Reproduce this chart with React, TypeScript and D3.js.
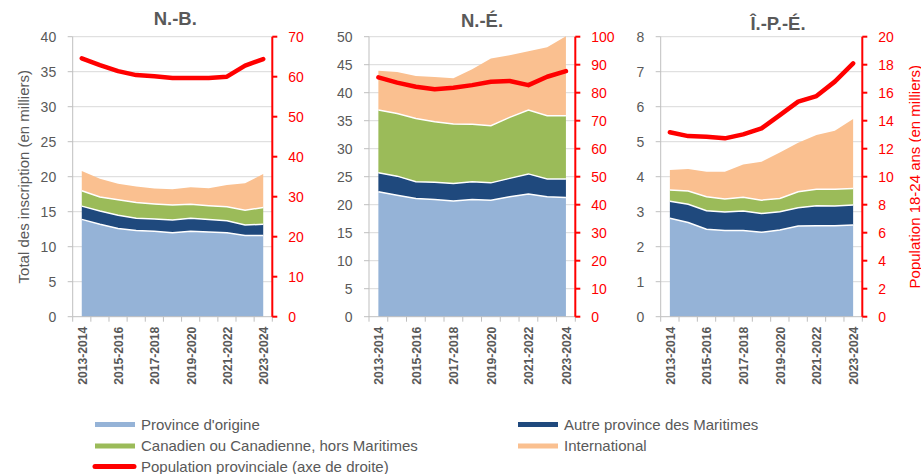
import * as d3 from "d3";

// ── Data (values in thousands) ─────────────────────────────────────────────
const years = [
  "2013-2014", "2014-2015", "2015-2016", "2016-2017", "2017-2018", "2018-2019",
  "2019-2020", "2020-2021", "2021-2022", "2022-2023", "2023-2024",
];

const nbOrigine = [13.9, 13.2, 12.6, 12.3, 12.2, 12.0, 12.2, 12.1, 12.0, 11.6, 11.6];
const nbAutre = [1.9, 1.9, 1.9, 1.75, 1.75, 1.8, 1.85, 1.8, 1.7, 1.5, 1.6];
const nbCanadien = [2.2, 2.0, 2.2, 2.25, 2.15, 2.15, 2.0, 1.95, 2.0, 2.1, 2.4];
const nbInternational = [2.8, 2.6, 2.3, 2.3, 2.2, 2.25, 2.45, 2.5, 3.1, 3.85, 4.8];
const nbPopulation = [64.6, 62.9, 61.4, 60.4, 60.1, 59.7, 59.7, 59.7, 60.0, 62.75, 64.4];

const neOrigine = [22.3, 21.7, 21.1, 20.95, 20.65, 20.95, 20.8, 21.4, 21.9, 21.4, 21.3];
const neAutre = [3.4, 3.4, 3.0, 3.05, 3.15, 3.15, 3.1, 3.3, 3.6, 3.2, 3.3];
const neCanadien = [11.2, 11.2, 11.3, 10.8, 10.6, 10.25, 10.2, 10.9, 11.4, 11.3, 11.3];
const neInternational = [7.0, 7.4, 7.6, 8.0, 8.2, 9.85, 12.0, 11.1, 10.5, 12.2, 14.2];
const nePopulation = [85.5, 83.6, 82.1, 81.2, 81.8, 82.7, 83.9, 84.2, 82.7, 85.7, 87.7];

const ipeOrigine = [2.81, 2.69, 2.5, 2.46, 2.46, 2.41, 2.48, 2.59, 2.6, 2.6, 2.62];
const ipeAutre = [0.49, 0.52, 0.53, 0.53, 0.56, 0.54, 0.52, 0.52, 0.57, 0.56, 0.57];
const ipeCanadien = [0.32, 0.38, 0.4, 0.37, 0.39, 0.38, 0.38, 0.46, 0.47, 0.48, 0.47];
const ipeInternational = [0.57, 0.63, 0.71, 0.78, 0.94, 1.1, 1.31, 1.4, 1.55, 1.67, 1.99];
const ipePopulation = [13.17, 12.9, 12.86, 12.74, 13.02, 13.45, 14.4, 15.36, 15.76, 16.79, 18.1];

const seriesLabels = [
  "Province d'origine",
  "Autre province des Maritimes",
  "Canadien ou Canadienne, hors Maritimes",
  "International",
];
const popLabel = "Population provinciale (axe de droite)";
const leftTitle = "Total des inscription (en milliers)";
const rightTitle = "Population 18-24 ans (en milliers)";

// ── Styles ─────────────────────────────────────────────────────────────────
const COLORS = ["#95B3D7", "#1F497D", "#9BBB59", "#FAC090"];
const RED = "#FF0000";
const GRAY_TEXT = "#595959";
const GRID = "#D9D9D9";
const AXIS = "#BFBFBF";
const FONT = "'Liberation Sans', Arial, sans-serif";
// rotated year labels are a little narrower than the plain face
const XLABEL_SQUEEZE = 0.9;

const TOP = 36.7;
const BOTTOM = 316.7;

interface Panel {
  title: string;
  series: number[][];
  population: number[];
  leftMax: number;
  leftStep: number;
  rightMax: number;
  rightStep: number;
  x0: number;
  x1: number;
  titleX: number;
  titleY: number;
}

const panels: Panel[] = [
  {
    title: "N.-B.",
    series: [nbOrigine, nbAutre, nbCanadien, nbInternational],
    population: nbPopulation,
    leftMax: 40, leftStep: 5, rightMax: 70, rightStep: 10,
    x0: 72.7, x1: 272.3, titleX: 175.3, titleY: 24.5,
  },
  {
    title: "N.-É.",
    series: [neOrigine, neAutre, neCanadien, neInternational],
    population: nePopulation,
    leftMax: 50, leftStep: 5, rightMax: 100, rightStep: 10,
    x0: 369, x1: 575.3, titleX: 482, titleY: 26.5,
  },
  {
    title: "Î.-P.-É.",
    series: [ipeOrigine, ipeAutre, ipeCanadien, ipeInternational],
    population: ipePopulation,
    leftMax: 8, leftStep: 1, rightMax: 20, rightStep: 2,
    x0: 660.7, x1: 862.3, titleX: 778, titleY: 30,
  },
];

function ChartPanel({ p }: { p: Panel }) {
  const x = d3.scaleBand<string>().domain(years).range([p.x0, p.x1]).padding(0);
  const cx = (i: number) => (x(years[i]) ?? 0) + x.bandwidth() / 2;
  const yL = d3.scaleLinear().domain([0, p.leftMax]).range([BOTTOM, TOP]);
  const yR = d3.scaleLinear().domain([0, p.rightMax]).range([BOTTOM, TOP]);

  const rows = years.map((_, i) => {
    const r: Record<string, number> = {};
    p.series.forEach((s, k) => (r["s" + k] = s[i]));
    return r;
  });
  const stacked = d3.stack<Record<string, number>>().keys(p.series.map((_, k) => "s" + k))(rows);

  const area = d3
    .area<d3.SeriesPoint<Record<string, number>>>()
    .x((_, i) => cx(i))
    .y0((d) => yL(d[0]))
    .y1((d) => yL(d[1]));
  const topLine = d3
    .line<d3.SeriesPoint<Record<string, number>>>()
    .x((_, i) => cx(i))
    .y((d) => yL(d[1]));
  const popLine = d3
    .line<number>()
    .x((_, i) => cx(i))
    .y((v) => yR(v));

  const leftTicks = d3.range(0, p.leftMax + p.leftStep / 2, p.leftStep);
  const rightTicks = d3.range(0, p.rightMax + p.rightStep / 2, p.rightStep);
  const bounds = [...years.map((yr) => x(yr) ?? 0), p.x1];

  return (
    <g>
      <text
        x={p.titleX} y={p.titleY} textAnchor="middle"
        fontFamily={FONT} fontWeight="bold" fontSize={18.5} fill={GRAY_TEXT}
      >
        {p.title}
      </text>

      {/* gridlines */}
      {leftTicks.filter((t) => t > 0).map((t) => (
        <line key={"g" + t} x1={p.x0} x2={p.x1} y1={yL(t)} y2={yL(t)} stroke={GRID} strokeWidth={1} />
      ))}

      {/* stacked areas */}
      {stacked.map((s, k) => (
        <path key={"a" + k} d={area(s) ?? ""} fill={COLORS[k]} />
      ))}
      {stacked.slice(0, 3).map((s, k) => (
        <path key={"w" + k} d={topLine(s) ?? ""} fill="none" stroke="#fff" strokeWidth={1.5} />
      ))}

      {/* left axis */}
      <line x1={p.x0} x2={p.x0} y1={TOP} y2={BOTTOM} stroke={AXIS} strokeWidth={1} />
      {leftTicks.map((t) => (
        <g key={"l" + t}>
          <line x1={p.x0 - 5} x2={p.x0} y1={yL(t)} y2={yL(t)} stroke={AXIS} strokeWidth={1} />
          <text
            x={p.x0 - 16.5} y={yL(t)} dy="0.36em" textAnchor="end"
            fontFamily={FONT} fontSize={14} fill={GRAY_TEXT}
          >
            {t}
          </text>
        </g>
      ))}

      {/* x axis */}
      <line x1={p.x0} x2={p.x1} y1={BOTTOM} y2={BOTTOM} stroke={AXIS} strokeWidth={1} />
      {bounds.map((b, i) => (
        <line key={"xt" + i} x1={b} x2={b} y1={BOTTOM} y2={BOTTOM + 5} stroke={AXIS} strokeWidth={1} />
      ))}
      {years.map((yr, i) =>
        i % 2 === 0 ? (
          <text
            key={"xl" + yr}
            transform={`translate(${cx(i)},${BOTTOM + 10}) rotate(-90) scale(${XLABEL_SQUEEZE},1)`}
            dy="0.36em" textAnchor="end"
            fontFamily={FONT} fontWeight="bold" fontSize={13.5} fill={GRAY_TEXT}
          >
            {yr}
          </text>
        ) : null
      )}

      {/* population line */}
      <path
        d={popLine(p.population) ?? ""} fill="none" stroke={RED} strokeWidth={4.5}
        strokeLinecap="round" strokeLinejoin="round"
      />

      {/* right axis */}
      <line x1={p.x1} x2={p.x1} y1={TOP} y2={BOTTOM} stroke={RED} strokeWidth={2} />
      {rightTicks.map((t) => (
        <g key={"r" + t}>
          <line x1={p.x1} x2={p.x1 + 5} y1={yR(t)} y2={yR(t)} stroke={RED} strokeWidth={2} />
          <text
            x={p.x1 + 16} y={yR(t)} dy="0.36em" textAnchor="start"
            fontFamily={FONT} fontSize={14} fill={RED}
          >
            {t}
          </text>
        </g>
      ))}
    </g>
  );
}

export default function App() {
  const legendItems = [
    { label: seriesLabels[0], color: COLORS[0], x: 95, y: 424.5 },
    { label: seriesLabels[1], color: COLORS[1], x: 518, y: 424.5 },
    { label: seriesLabels[2], color: COLORS[2], x: 95, y: 446 },
    { label: seriesLabels[3], color: COLORS[3], x: 518, y: 446 },
  ];
  return (
    <svg
      width={921} height={474} viewBox="0 0 921 474"
      style={{ position: "absolute", left: 0, top: 0, background: "#fff" }}
    >
      {panels.map((p) => (
        <ChartPanel key={p.title} p={p} />
      ))}

      <text
        transform={`translate(23,${(TOP + BOTTOM) / 2}) rotate(-90)`}
        textAnchor="middle" dominantBaseline="central"
        fontFamily={FONT} fontSize={15} fill={GRAY_TEXT}
      >
        {leftTitle}
      </text>
      <text
        transform={`translate(914,${(TOP + BOTTOM) / 2}) rotate(-90)`}
        textAnchor="middle" dominantBaseline="central"
        fontFamily={FONT} fontSize={15} fill={RED}
      >
        {rightTitle}
      </text>

      {/* legend */}
      {legendItems.map((it) => (
        <g key={it.label}>
          <rect x={it.x} y={it.y - 2.5} width={40} height={5} fill={it.color} />
          <text
            x={it.x + 46} y={it.y} dy="0.36em"
            fontFamily={FONT} fontSize={15} fill={GRAY_TEXT}
          >
            {it.label}
          </text>
        </g>
      ))}
      <line x1={95} x2={134} y1={466.5} y2={466.5} stroke={RED} strokeWidth={5} strokeLinecap="round" />
      <text x={141} y={466.5} dy="0.36em" fontFamily={FONT} fontSize={15} fill={GRAY_TEXT}>
        {popLabel}
      </text>
    </svg>
  );
}
